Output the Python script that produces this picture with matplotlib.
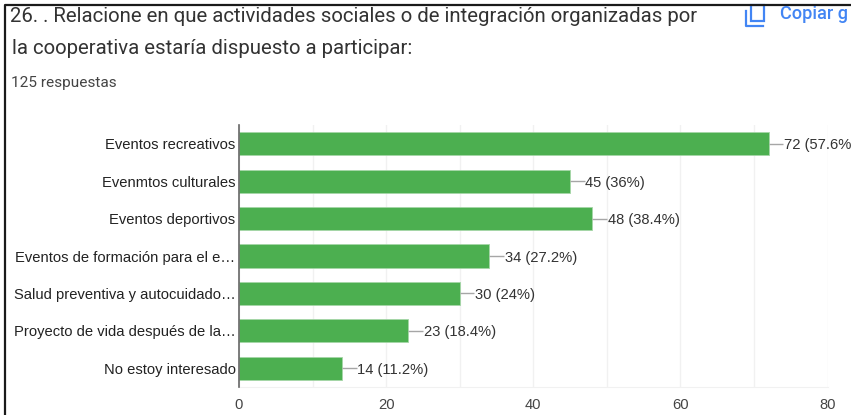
import matplotlib
matplotlib.use("Agg")
import matplotlib.pyplot as plt
from matplotlib.patches import Rectangle
from matplotlib.lines import Line2D

categories = ["Eventos recreativos", "Evenmtos culturales", "Eventos deportivos",
              "Eventos de formación para el e…", "Salud preventiva y autocuidado…",
              "Proyecto de vida después de la…", "No estoy interesado"]
values = [72, 45, 48, 34, 30, 23, 14]
percents = ["57.6%", "36%", "38.4%", "27.2%", "24%", "18.4%", "11.2%"]
xticks = [0, 20, 40, 60, 80]

W, H = 851, 415
plt.rcParams['font.family'] = ['Liberation Sans', 'DejaVu Sans']
header_font = ['Roboto', 'DejaVu Sans']

fig = plt.figure(figsize=(W / 100, H / 100), dpi=100)

# axes placed in pixels of the screenshot
left, right, top, bottom = 239, 827.5, 125, 387
ax = fig.add_axes([left / W, 1 - bottom / H, (right - left) / W, (bottom - top) / H])

y = list(range(len(values)))
ax.barh(y, values, height=0.62, color="#4caf50", edgecolor="#a5d6a7", linewidth=0.6, zorder=3)
ax.set_xlim(0, 80)
ax.set_ylim(len(values) - 0.5, -0.5)

ax.set_xticks(range(0, 81, 10))
ax.set_xticklabels([str(t) if t in xticks else "" for t in range(0, 81, 10)],
                   fontsize=10.6, color="#444444")
ax.tick_params(axis="x", length=0, pad=8)
ax.grid(axis="x", color="#f1f1f1", linewidth=1, zorder=0)
ax.set_axisbelow(True)

ax.set_yticks(y)
ax.set_yticklabels(categories, fontsize=10.6, color="#222222")
ax.tick_params(axis="y", length=0, pad=2.5)

for s in ["top", "right"]:
    ax.spines[s].set_visible(False)
ax.spines["bottom"].set_color("#f1f1f1")
ax.spines["left"].set_color("#666666")
ax.spines["left"].set_linewidth(1.2)
ax.spines["left"].set_zorder(5)

# leader lines and value labels
for i, (v, p) in enumerate(zip(values, percents)):
    ax.plot([v, v + 2], [i, i], color="#a6a6a6", linewidth=1, zorder=4, solid_capstyle="butt")
    ax.text(v + 2.1, i, f"{v} ({p})", va="center_baseline", ha="left", fontsize=10.6,
            color="#333333", zorder=6, clip_on=False)

# header text
fig.text(10 / W, 1 - 17 / H, "26. . Relacione en que actividades sociales o de integración organizadas por",
         fontsize=14.7, color="#333333", va="center", family=header_font)
fig.text(12 / W, 1 - 48 / H, "la cooperativa estaría dispuesto a participar:",
         fontsize=14.7, color="#333333", va="center", family=header_font)
fig.text(11 / W, 1 - 83 / H, "125 respuestas", fontsize=11.1, color="#444444", va="center", family=header_font)
fig.text(780 / W, 1 - 14 / H, "Copiar g", fontsize=13.1, color="#4285f4", va="center",
         fontweight="medium", family=header_font)

# overlay in pixel coordinates for the frame and the copy icon
ov = fig.add_axes([0, 0, 1, 1], facecolor="none")
ov.set_xlim(0, W)
ov.set_ylim(H, 0)
ov.axis("off")
ov.add_patch(Rectangle((751, 5), 13, 16, fill=False, edgecolor="#4285f4", linewidth=1.6))
ov.add_line(Line2D([745.5, 745.5, 763], [11, 26, 26], color="#4285f4", linewidth=1.6))
ov.add_line(Line2D([4.5, 4.5, W], [H, 5, 5], color="#1a1a1a", linewidth=1.6))

fig.savefig("out.png", dpi=100)
